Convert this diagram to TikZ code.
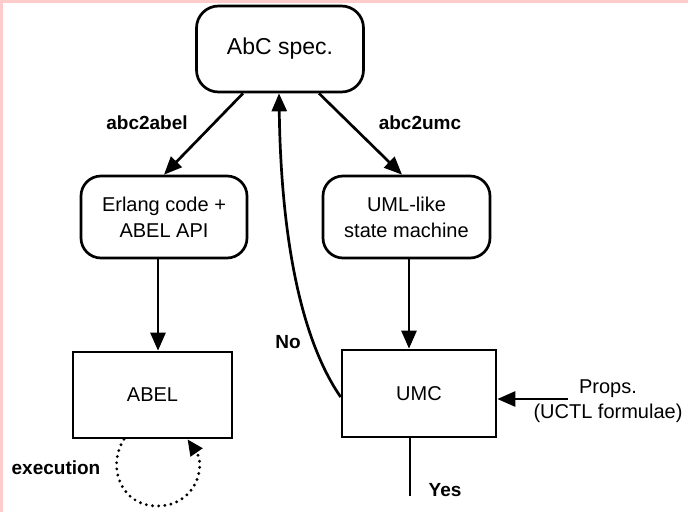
\documentclass[tikz,border=0pt]{standalone}
\usepackage{fontspec}
\setmainfont{Liberation Sans}
\usetikzlibrary{arrows.meta}
\definecolor{edgepink}{RGB}{255,204,204}
\tikzset{
  box/.style={draw, line width=2.7pt, inner sep=0pt, align=center,
    font=\fontsize{20}{26}\selectfont},
  rbox/.style={box, rounded corners=20pt},
  lbl/.style={font=\fontsize{19}{23}\selectfont\bfseries, inner sep=0pt},
  txt/.style={font=\fontsize{20}{25}\selectfont, align=center, inner sep=0pt},
  arr/.style={line width=2.7pt, -{Triangle[length=18pt,width=15pt]}},
  loopline/.style={line width=3.2pt, line cap=round, dash pattern=on 0pt off 6.2pt,
    -{Triangle[length=16pt,width=14pt]}},
}
\begin{document}
\begin{tikzpicture}[x=1pt, y=-1pt]
  \useasboundingbox (0,0) rectangle (688,512);
  % thin frame along the top and left edges
  \fill[edgepink] (0,0) rectangle (688,2.5);
  \fill[edgepink] (0,0) rectangle (2.5,512);

  % boxes
  \node[rbox, rounded corners=22pt, minimum width=167pt, minimum height=86pt,
        font=\fontsize{23}{28}\selectfont] (spec) at (280,49) {AbC spec.};
  \node[rbox, minimum width=166pt, minimum height=82pt] (erl) at (164,217)
        {Erlang code +\\ABEL API};
  \node[rbox, minimum width=167pt, minimum height=82pt] (uml) at (406.5,217)
        {UML-like\\state machine};
  \node[box, minimum width=159pt, minimum height=86pt] (abel) at (152.5,395) {ABEL};
  \node[box, minimum width=154pt, minimum height=87pt] (umc) at (419,393.5) {UMC};

  % translations
  \draw[arr] ([xshift=-37pt]spec.south) -- (erl.north);
  \draw[arr] ([xshift=39pt]spec.south) -- ([xshift=-4.5pt]uml.north);
  \node[lbl] (l1) at (147,123) {abc2abel};
  \node[lbl] (l2) at (420,123) {abc2umc};

  \draw[arr] ([xshift=-6pt]erl.south) -- ([xshift=5.5pt]abel.north);
  \draw[arr] ([xshift=2.5pt]uml.south) -- ([xshift=-10pt]umc.north);

  % counterexample feedback
  \draw[arr] ([yshift=-3.5pt]umc.west) .. controls (300,338) and (281,235) .. ([xshift=-1pt]spec.south);
  \node[lbl] (no) at (288,342) {No};

  % properties input
  \node[txt] (props) at (608,401) {Props.\\(UCTL formulae)};
  \coordinate (pin) at (568,399);
  \draw[arr] (pin) -- ([yshift=-5.5pt]umc.east);

  % positive verdict
  \coordinate (yesend) at (410,496);
  \draw[line width=2.7pt] ([xshift=-9pt]umc.south) -- (yesend);
  \node[lbl] (yes) at (445,490) {Yes};

  % execution loop
  \draw[loopline] ([xshift=-28.5pt]abel.south) .. controls (106,468) and (122,506) .. (157,506)
        .. controls (196,506) and (206,466) .. ([xshift=35pt]abel.south);
  \node[lbl] (ex) at (56,468) {execution};
\end{tikzpicture}
\end{document}
